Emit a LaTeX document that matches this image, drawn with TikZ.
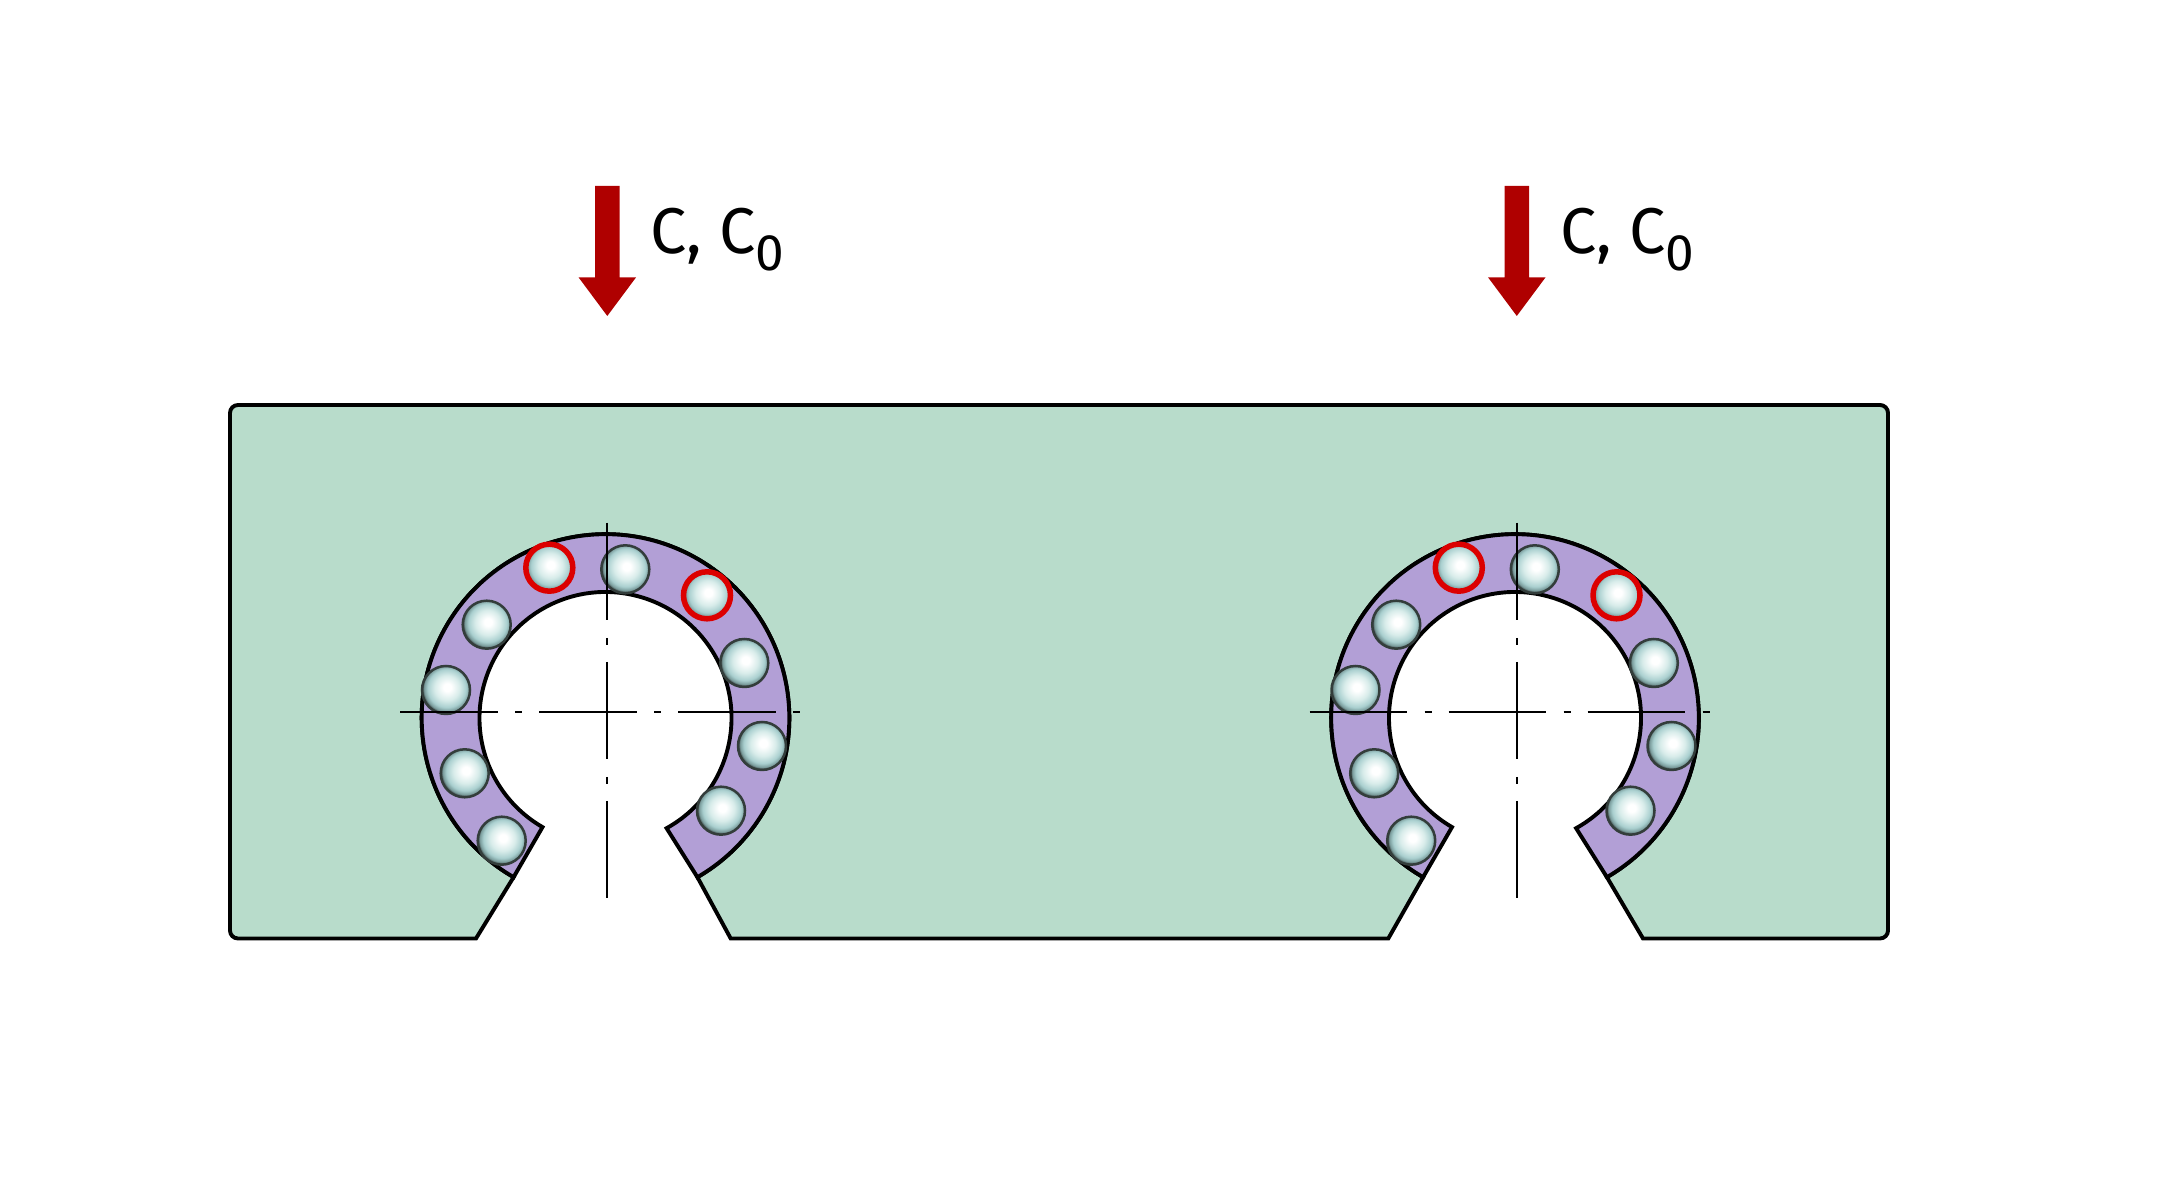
\documentclass[tikz,border=0pt]{standalone}
\usepackage{fontspec}
\setmainfont{Fira Sans}
\usepackage{xcolor}
\usetikzlibrary{calc}
\definecolor{railgreen}{HTML}{B8DCCB}
\definecolor{ringpurple}{HTML}{B29FD6}
\definecolor{loadred}{HTML}{AF0000}
\definecolor{ballred}{HTML}{DC0000}
\definecolor{ballrim}{HTML}{333D3B}
\definecolor{ballpale}{HTML}{D8ECEA}
\definecolor{ballmid}{HTML}{A9CFCF}
\definecolor{balldark}{HTML}{7C9E9E}
\pgfdeclareradialshading{ballshade}{\pgfpoint{1.5bp}{3bp}}{%
  color(0bp)=(white);
  color(4bp)=(white);
  color(13bp)=(ballpale);
  color(20bp)=(ballmid);
  color(23.5bp)=(balldark);
  color(26bp)=(ballrim);
  color(50bp)=(ballrim)}
\tikzset{
  outline/.style={draw=black,line width=0.39mm,line join=miter},
  centerline/.style={draw=black,line width=0.23mm,dash pattern=on 9.75mm off 1.75mm on 0.7mm off 1.7mm},
  ball/.style={shading=ballshade,draw=ballrim,line width=0.25mm},
  loadball/.style={draw=ballred,line width=0.55mm},
  loadlabel/.style={inner sep=0pt,anchor=base west,font=\fontsize{18.4pt}{20pt}\selectfont}
}
\begin{document}
\begin{tikzpicture}[x=0.01cm,y=0.01cm]
	\useasboundingbox (0,0) rectangle (2160,1200);
	\coordinate (ringA) at (605.5,482);
	\coordinate (ringB) at (1515,482);
	% rail
	\path[outline,fill=railgreen] ($(ringA)+(240:183.8)$) arc (240:-60:183.8) -- (730.7,261.5) -- (1388.3,261.5) -- ($(ringB)+(240:183.8)$) arc (240:-60:183.8) -- (1643,261.5)
		[rounded corners=0.08cm] -- (1888,261.5) -- (1888,795) -- (230,795) -- (230,261.5) [sharp corners] -- (476,261.5) -- cycle;
	\foreach \dx/\name in {0/A,909.5/B}{
		\begin{scope}[shift={(\dx,0)}]
			% bearing segment
			\draw[outline,fill=ringpurple] ($(605.5,482)+(240:183.8)$) arc (240:-60:183.8) -- ($(605.5,482)+(-61:126)$) arc (-61:240:126) -- cycle;
			% balls
			\foreach \bx/\by in {549.3/632.3,625.3/630.7,707/604.7,744.3/537,762/454,721/389.3,501.7/359.3,464.7/426.7,446/510,486.7/575.3}{
				\shadedraw[ball] (\bx,\by) circle (24);
			}
			\draw[loadball] (549.3,632.3) circle (23.5);
			\draw[loadball] (707,604.7) circle (23.5);
			% centre lines
			\draw[centerline] (400,488) -- (800,488);
			\draw[centerline] (607.3,677.3) -- (607.3,302);
			% load arrow
			\fill[loadred] (595.1,1014) -- (619.5,1014) -- (619.5,922.7) -- (636.1,922.7) -- (607.3,884) -- (578.5,922.7) -- (595.1,922.7) -- cycle;
			\node[loadlabel] (load\name) at (650,946.5) {C, C\raisebox{-1.7mm}{\fontsize{14.6pt}{16pt}\selectfont 0}};
		\end{scope}
	}
\end{tikzpicture}
\end{document}
